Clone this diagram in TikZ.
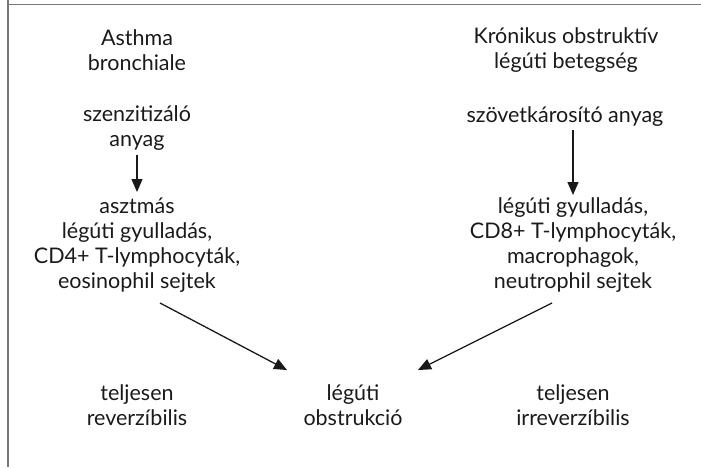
\documentclass[tikz,border=0pt]{standalone}
\usepackage{fontspec}
\setmainfont{Lato}
\usetikzlibrary{arrows.meta}
\definecolor{txt}{HTML}{1A1A1A}
\definecolor{frame}{HTML}{777777}
\tikzset{
  lbl/.style={align=center, inner sep=0pt, text=txt, font=\fontsize{21.5}{25}\selectfont},
  arr/.style={draw=txt, line width=1.3pt, -{Triangle[length=13pt,width=11pt]}},
  frm/.style={draw=frame, line width=1.6pt}
}
\begin{document}
\begin{tikzpicture}[x=1pt,y=-1pt]
\useasboundingbox (0,0) rectangle (701,467);
\coordinate (fa) at (8,0);
\coordinate (fb) at (8,467);
\coordinate (fc) at (8,4.5);
\coordinate (fd) at (701,4.5);
\draw[frm] (fb) -- (fa);
\draw[frm] (fc) -- (fd);
\node[lbl] (a1) at (137,50) {Asthma\\bronchiale};
\node[lbl] (a2) at (137,128) {szenzitizáló\\anyag};
\node[lbl] (a3) at (137,245) {asztmás\\légúti gyulladás,\\CD4+ T-lymphocyták,\\eosinophil sejtek};
\node[lbl] (b1) at (566,50) {Krónikus obstruktív\\légúti betegség};
\node[lbl] (b2) at (565,117) {szövetkárosító anyag};
\node[lbl] (b3) at (573,245) {légúti gyulladás,\\CD8+ T-lymphocyták,\\macrophagok,\\neutrophil sejtek};
\node[lbl] (c1) at (137,405) {teljesen\\reverzíbilis};
\node[lbl] (c2) at (353,405) {légúti\\obstrukció};
\node[lbl] (c3) at (573,405) {teljesen\\irreverzíbilis};
\coordinate (la) at (137,155);
\coordinate (lb) at (137,192);
\coordinate (ra) at (573,130);
\coordinate (rb) at (573,195);
\coordinate (da) at (160,303);
\coordinate (db) at (287,370);
\coordinate (ea) at (552,303);
\coordinate (eb) at (418,370);
\draw[arr] (la) -- (lb);
\draw[arr] (ra) -- (rb);
\draw[arr] (da) -- (db);
\draw[arr] (ea) -- (eb);
\end{tikzpicture}
\end{document}
